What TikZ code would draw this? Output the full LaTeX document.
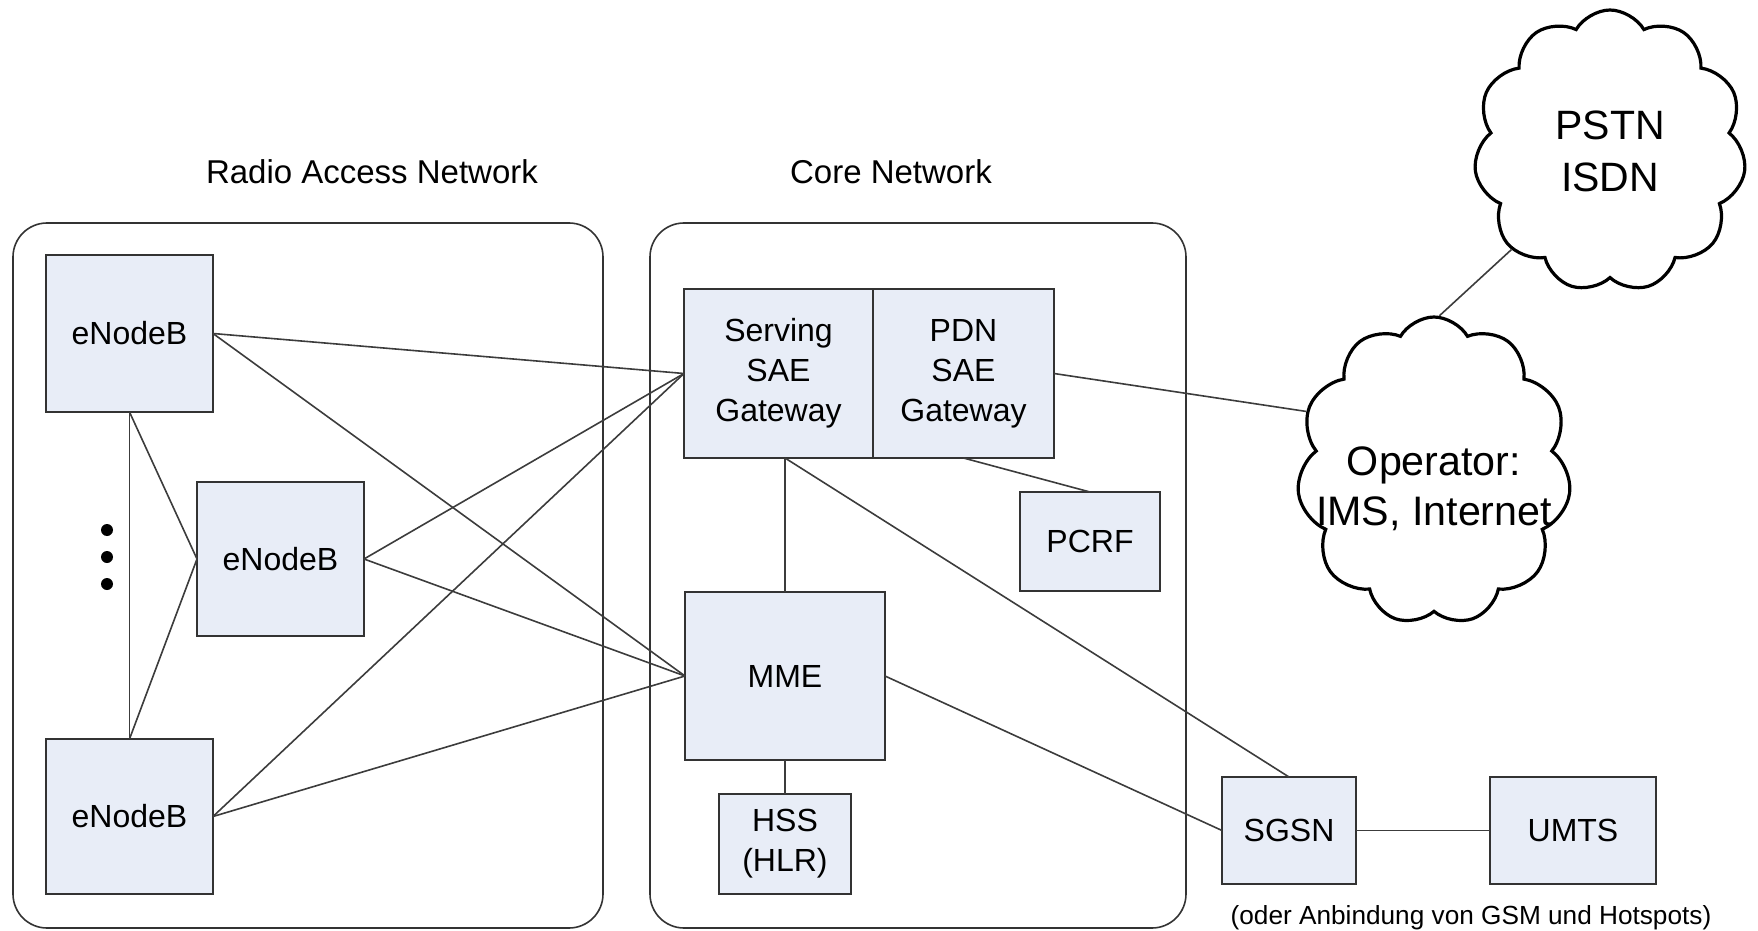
\documentclass[tikz,border=0pt]{standalone}
\usepackage{fontspec}
\setmainfont{Liberation Sans}
\usepackage{xcolor}
\usetikzlibrary{positioning,shapes.symbols}
\definecolor{boxfill}{RGB}{232,237,247}
\definecolor{boxline}{RGB}{51,51,51}
\definecolor{linkline}{RGB}{60,60,60}

\begin{document}
\begin{tikzpicture}[
    x=0.5pt, y=-0.5pt,
    box/.style={rectangle, draw=boxline, fill=boxfill, line width=1pt, outer sep=0pt, inner sep=0pt, align=center, font=\fontsize{16}{20}\selectfont},
    group/.style={rectangle, draw=black!80, line width=0.8pt, rounded corners=17pt, inner sep=0pt},
    net/.style={cloud, draw=black, line width=1.6pt, cloud puffs=11, cloud puff arc=120, cloud ignores aspect, inner sep=0pt, align=center, font=\fontsize{20.5}{26}\selectfont},
    link/.style={draw=linkline, line width=0.8pt},
    title/.style={font=\fontsize{16.5}{20}\selectfont}
]
\useasboundingbox (0,0) rectangle (1758,931);

% groups
\node[group, minimum width=295pt, minimum height=352.5pt] (ran) at (308,575.5) {};
\node[group, minimum width=268pt, minimum height=352.5pt] (core) at (918,575.5) {};
\node[title] (rantitle) at (372,172) {Radio Access Network};
\node[title] (coretitle) at (891,172) {Core Network};

% radio access network
\node[box, minimum width=83.5pt, minimum height=78.5pt] (enb1) at (129.5,333.5) {eNodeB};
\node[box, minimum width=83.5pt, minimum height=77pt] (enb2) at (280.5,559) {eNodeB};
\node[box, minimum width=83.5pt, minimum height=77.5pt] (enb3) at (129.5,816.5) {eNodeB};
\foreach \y in {530,557,584}
    \fill (107,\y) circle (3pt);

% core network
\node[box, minimum width=94.5pt, minimum height=84.5pt] (sgw) at (778.5,373.5) {Serving\\SAE\\Gateway};
\node[box, minimum width=90.5pt, minimum height=84.5pt, right=0pt of sgw] (pgw) {PDN\\SAE\\Gateway};
\node[box, minimum width=70pt, minimum height=49.5pt] (pcrf) at (1090,541.5) {PCRF};
\node[box, minimum width=100pt, minimum height=84pt] (mme) at (785,676) {MME};
\node[box, minimum width=66pt, minimum height=50pt, below=17pt of mme] (hss) {HSS\\(HLR)};

% outside
\node[box, minimum width=67pt, minimum height=53.5pt] (sgsn) at (1289,830.5) {SGSN};
\node[box, minimum width=83pt, minimum height=53.5pt] (umts) at (1573,830.5) {UMTS};
\node[font=\fontsize{13.1}{16}\selectfont] (note) at (1471,918) {(oder Anbindung von GSM und Hotspots)};
\node[net, minimum width=136pt, minimum height=141pt] (pstn) at (1610,151) {PSTN\\ISDN};
\node[net, minimum width=137pt, minimum height=154pt] (op) at (1434,471) {};
\node[font=\fontsize{20.6}{25}\selectfont, align=center] (optext) at ([yshift=-9pt]op.center) {Operator:\\IMS, Internet};

% links
\draw[link] (enb1.east) -- (sgw.west);
\draw[link] (enb1.east) -- (mme.west);
\draw[link] (enb2.east) -- (sgw.west);
\draw[link] (enb2.east) -- (mme.west);
\draw[link] (enb3.east) -- (sgw.west);
\draw[link] (enb3.east) -- (mme.west);
\draw[link] (enb1.south) -- (enb3.north);
\draw[link] (enb1.south) -- (enb2.west);
\draw[link] (enb3.north) -- (enb2.west);
\draw[link] (mme.north |- sgw.south) -- (mme.north);
\draw[link] (mme.north |- sgw.south) -- (sgsn.north);
\draw[link] (mme.south) -- (hss.north);
\draw[link] (mme.east) -- (sgsn.west);
\draw[link] (pgw.south) -- (pcrf.north);
\draw[link] (pgw.east) -- (op.155);
\draw[link] (op.88) -- (pstn.225);
\draw[link] (sgsn.east) -- (umts.west);

\end{tikzpicture}
\end{document}
